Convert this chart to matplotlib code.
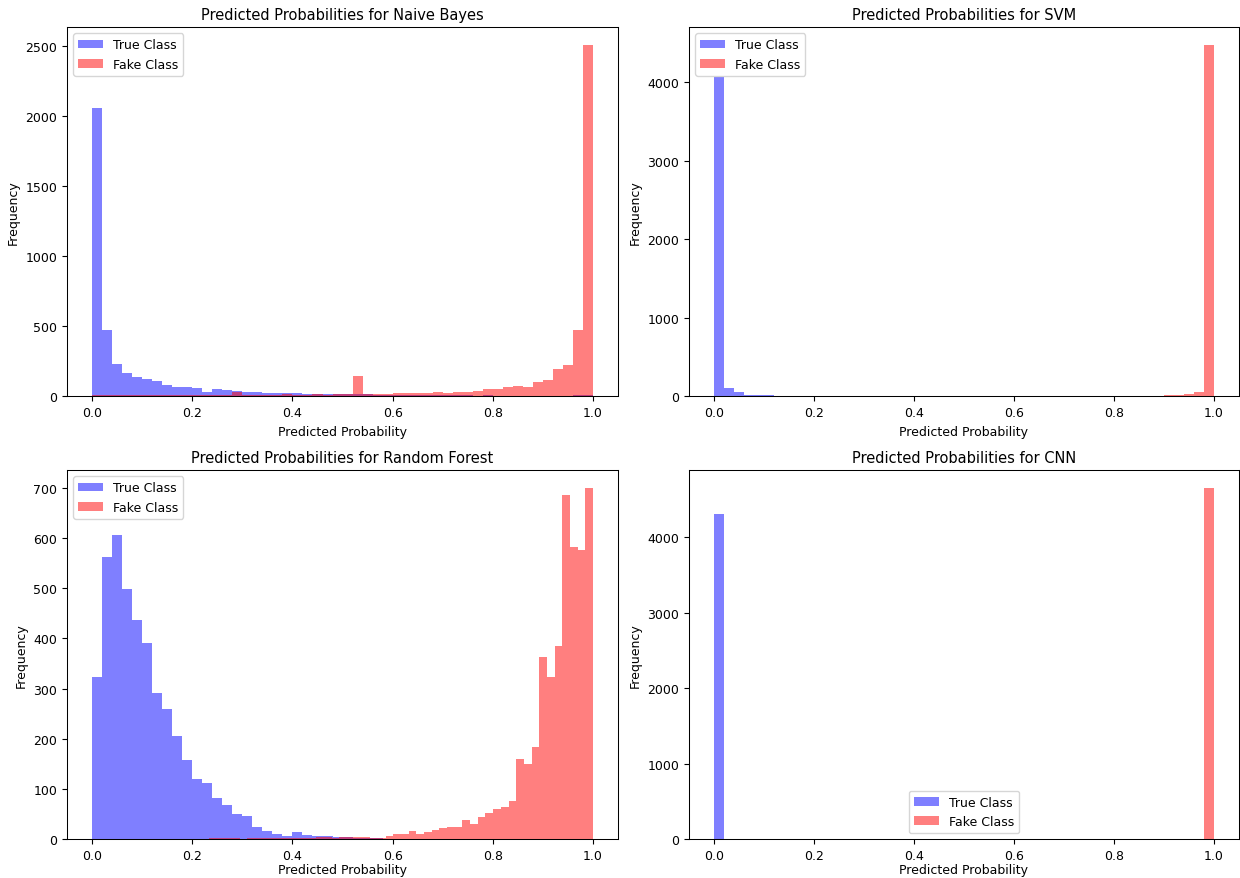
import numpy as np
from matplotlib import pyplot as plt

# bin counts (50 bins per series)
nb_true = [2057, 473, 231, 166, 140, 124, 112, 83, 64, 69,
           57, 33, 52, 45, 36, 29, 31, 26, 21, 24,
           21, 18, 20, 17, 19, 16, 18, 14, 12, 10,
           9, 8, 9, 7, 8, 6, 7, 6, 5, 6,
           5, 5, 4, 5, 4, 4, 5, 4, 6, 10]
nb_fake = [12, 10, 9, 8, 9, 7, 8, 6, 10, 7,
           8, 9, 10, 8, 30, 12, 10, 11, 12, 13,
           12, 11, 13, 12, 14, 15, 143, 16, 18, 17,
           26, 24, 27, 25, 28, 26, 29, 31, 40, 52,
           55, 64, 76, 69, 102, 119, 193, 226, 473, 2511]

svm_true = [4059, 106, 51, 16, 14, 13] + [0] * 44
svm_fake = [0] * 44 + [10, 12, 13, 30, 59, 4475]

rf_true = [324, 562, 606, 499, 437, 391, 291, 260, 206, 157,
           121, 113, 82, 68, 51, 46, 25, 17, 11, 7,
           15, 9, 6, 6, 5, 4, 3, 3, 2, 1,
           1, 1, 1, 1, 0, 1, 0, 0, 1, 0,
           0, 0, 1, 0, 0, 0, 0, 0, 1, 1]
rf_fake = [2, 2, 3, 2, 1, 2, 3, 2, 2, 3,
           3, 2, 3, 3, 4, 4, 3, 4, 4, 5,
           4, 3, 3, 7, 10, 11, 17, 10, 15, 19,
           23, 25, 25, 38, 31, 44, 53, 60, 64, 77,
           159, 149, 184, 362, 324, 385, 686, 581, 577, 700]

cnn_true = [4305, 0, 10] + [0] * 10 + [8] + [0] * 36
cnn_fake = [0] * 44 + [8, 0, 8, 0, 0, 4657]

# value range of each series (hist used its own min/max)
ranges = {
    'Naive Bayes': ((0.0, 1.0), (0.0, 1.0)),
    'SVM': ((0.0, 1.0), (0.0, 1.0)),
    'Random Forest': ((0.0, 1.0), (0.233, 1.0)),
    'CNN': ((0.0, 1.0), (0.0, 1.0)),
}
models = {
    'Naive Bayes': (nb_true, nb_fake),
    'SVM': (svm_true, svm_fake),
    'Random Forest': (rf_true, rf_fake),
    'CNN': (cnn_true, cnn_fake),
}

plt.rcParams['font.size'] = 9
plt.rcParams['axes.linewidth'] = 0.75

fig = plt.figure(figsize=(12.4, 8.79), dpi=100)
positions = {
    'Naive Bayes': [0.054, 0.548, 0.4445, 0.420],
    'SVM': [0.5556, 0.548, 0.4435, 0.420],
    'Random Forest': [0.054, 0.044, 0.4445, 0.420],
    'CNN': [0.5556, 0.044, 0.4435, 0.420],
}

for name, (true_counts, fake_counts) in models.items():
    ax = fig.add_axes(positions[name])
    (t_lo, t_hi), (f_lo, f_hi) = ranges[name]
    t_edges = np.linspace(t_lo, t_hi, len(true_counts) + 1)
    f_edges = np.linspace(f_lo, f_hi, len(fake_counts) + 1)
    ax.hist(t_edges[:-1], bins=t_edges, weights=true_counts,
            alpha=0.5, color='blue', label='True Class')
    ax.hist(f_edges[:-1], bins=f_edges, weights=fake_counts,
            alpha=0.5, color='red', label='Fake Class')
    ax.set_title('Predicted Probabilities for ' + name, fontsize=10.5)
    # bottom row sits at the figure edge, keep its label inside
    pad = 1.0 if name in ('Random Forest', 'CNN') else 4.0
    ax.set_xlabel('Predicted Probability', labelpad=pad)
    ax.set_ylabel('Frequency')
    ax.legend(loc='lower center' if name == 'CNN' else 'upper left')

plt.savefig('out.png', dpi=100)
